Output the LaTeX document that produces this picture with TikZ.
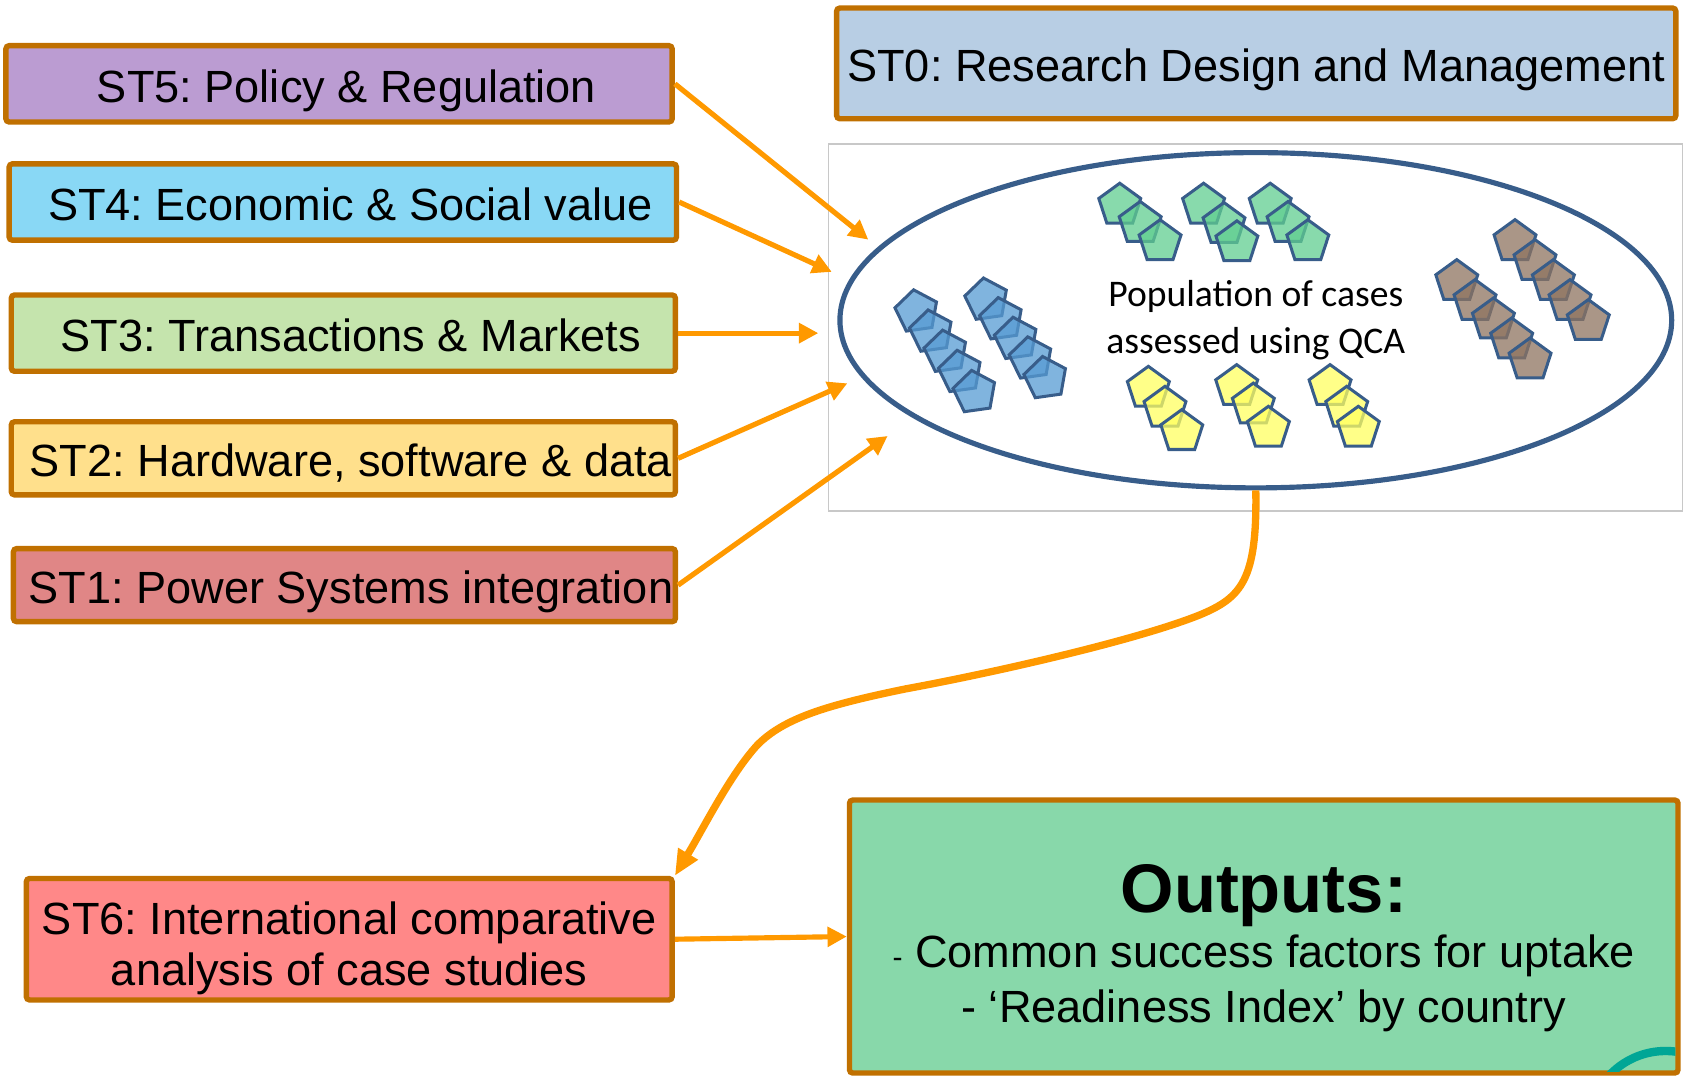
\documentclass[tikz,border=0pt]{standalone}
\usepackage{fontspec}
\setmainfont{Liberation Sans}
\newfontfamily\popfont{Carlito}
\usetikzlibrary{shapes.geometric,arrows.meta}
\frenchspacing

\tikzset{every picture/.style={line width=0.75pt}}

\begin{document}
\begin{tikzpicture}[x=0.5pt,y=0.5pt,yscale=-1,xscale=1,
  stbox/.style={draw={rgb, 255:red, 192; green, 112; blue, 0 }, line width=2.5pt, rounded corners=1.5pt, inner sep=0pt, align=center, font=\fontsize{21}{23.5}\selectfont},
  oneline/.style={stbox, text height=17pt, text depth=0pt},
  feed/.style={draw={rgb, 255:red, 255; green, 153; blue, 0 }, line width=2.4pt, -{Triangle[length=9pt,width=9pt]}},
  curvy/.style={draw={rgb, 255:red, 255; green, 153; blue, 0 }, line width=3.4pt, -{Triangle[length=12pt,width=10pt]}},
  pent/.style={regular polygon, regular polygon sides=5, minimum size=20.5pt, inner sep=0pt, draw={rgb, 255:red, 56; green, 93; blue, 138 }, line width=1.4pt, fill opacity=0.75},
  bluepent/.style={pent, rotate=8, fill={rgb, 255:red, 86; green, 155; blue, 211 }},
  greenpent/.style={pent, fill={rgb, 255:red, 96; green, 206; blue, 144 }},
  yellowpent/.style={pent, fill={rgb, 255:red, 255; green, 255; blue, 96 }},
  brownpent/.style={pent, fill={rgb, 255:red, 142; green, 115; blue, 95 }},
]
\useasboundingbox (0,0) rectangle (1568,1006);

%Shape: Rectangle (picture frame)
\draw [color={rgb, 255:red, 200; green, 200; blue, 200 }, line width=0.5pt] (771,134) rectangle (1566,475.5) ;

%Shape: Ellipse
\draw (1168.6,298) node [ellipse, draw={rgb, 255:red, 56; green, 93; blue, 138 }, line width=2.4pt, minimum width=387pt, minimum height=156pt, inner sep=0pt, align=center, font=\popfont\fontsize{17.5}{21.5}\selectfont] (pop) {Population of cases\\assessed using QCA};

%Shape: Pentagons, blue
\node [bluepent] (b11) at (853,290) {};
\node [bluepent] (b12) at (866.5,308.75) {};
\node [bluepent] (b13) at (880,327.5) {};
\node [bluepent] (b14) at (893.5,346.25) {};
\node [bluepent] (b15) at (907,365) {};
\node [bluepent] (b21) at (918,279) {};
\node [bluepent] (b22) at (931.75,297.25) {};
\node [bluepent] (b23) at (945.5,315.5) {};
\node [bluepent] (b24) at (959.25,333.75) {};
\node [bluepent] (b25) at (973,352) {};
%Shape: Pentagons, green
\node [greenpent] (g11) at (1042,191) {};
\node [greenpent] (g12) at (1061,208) {};
\node [greenpent] (g13) at (1079.5,225) {};
\node [greenpent] (g21) at (1120,191) {};
\node [greenpent] (g22) at (1139,209) {};
\node [greenpent] (g23) at (1151,226) {};
\node [greenpent] (g31) at (1182,191) {};
\node [greenpent] (g32) at (1198.6,208) {};
\node [greenpent] (g33) at (1217,225) {};
%Shape: Pentagons, yellow
\node [yellowpent] (y11) at (1068.6,361.4) {};
\node [yellowpent] (y12) at (1084.1,380) {};
\node [yellowpent] (y13) at (1099.7,401.7) {};
\node [yellowpent] (y21) at (1150.8,359.8) {};
\node [yellowpent] (y22) at (1166.3,377) {};
\node [yellowpent] (y23) at (1180.3,398.6) {};
\node [yellowpent] (y31) at (1237.7,359.8) {};
\node [yellowpent] (y32) at (1253.2,380) {};
\node [yellowpent] (y33) at (1264,398.6) {};
%Shape: Pentagons, brown
\node [brownpent] (r11) at (1409.8,224.9) {};
\node [brownpent] (r12) at (1428.4,243.5) {};
\node [brownpent] (r13) at (1445.5,262.1) {};
\node [brownpent] (r14) at (1461,280.7) {};
\node [brownpent] (r15) at (1478,299.3) {};
\node [brownpent] (r21) at (1355.6,262.1) {};
\node [brownpent] (r22) at (1372.6,280.7) {};
\node [brownpent] (r23) at (1389.7,297.8) {};
\node [brownpent] (r24) at (1406.7,316.4) {};
\node [brownpent] (r25) at (1423.8,335) {};

% Text Node
\draw (1169,59) node [oneline, fill={rgb, 255:red, 184; green, 206; blue, 228 }, minimum width=390.5pt, minimum height=51.5pt] (st0) {ST0: Research Design and Management};
% Text Node
\draw (315.5,78) node [oneline, fill={rgb, 255:red, 187; green, 156; blue, 210 }, minimum width=310pt, minimum height=35.5pt] (st5) {\hspace{7pt}ST5: Policy \& Regulation};
% Text Node
\draw (319,188) node [oneline, fill={rgb, 255:red, 137; green, 216; blue, 245 }, minimum width=310.5pt, minimum height=35.5pt] (st4) {\hspace{7pt}ST4: Economic \& Social value};
% Text Node
\draw (319.5,310) node [oneline, fill={rgb, 255:red, 197; green, 228; blue, 173 }, minimum width=309pt, minimum height=35.5pt] (st3) {\hspace{7pt}ST3: Transactions \& Markets};
% Text Node
\draw (319.5,426.5) node [oneline, fill={rgb, 255:red, 255; green, 224; blue, 140 }, minimum width=309pt, minimum height=34pt] (st2) {\hspace{7pt}ST2: Hardware, software \& data};
% Text Node
\draw (320.5,544.5) node [oneline, fill={rgb, 255:red, 224; green, 134; blue, 134 }, minimum width=308pt, minimum height=34pt] (st1) {\hspace{6pt}ST1: Power Systems integration};
% Text Node
\draw (325,874) node [stbox, fill={rgb, 255:red, 255; green, 136; blue, 136 }, minimum width=300.5pt, minimum height=56.5pt] (st6) {\rule{0pt}{23.5pt}ST6: International comparative\\analysis of case studies};
% Text Node
\draw (1176,871.5) node [stbox, fill={rgb, 255:red, 136; green, 216; blue, 170 }, minimum width=385.5pt, minimum height=127pt, font=\fontsize{21}{25.5}\selectfont] (out) {\rule{0pt}{33pt}{\bfseries\fontsize{32}{38}\selectfont Outputs:}\\{\fontsize{14}{16}\selectfont -} Common success factors for uptake\\- ‘Readiness Index’ by country};

%Shape: Arc (corner)
\begin{scope}
\clip (1480,950) rectangle (1559,997);
\draw [color={rgb, 255:red, 0; green, 166; blue, 150 }, line width=3.9pt] (1550,1050) circle [radius=36pt];
\end{scope}

%Straight Lines
\coordinate (t5) at (808,223);
\coordinate (t4) at (774,253);
\coordinate (t3) at (761.5,310);
\coordinate (t2) at (788.5,356.7);
\coordinate (t1) at (826,405.7);
\draw [feed] (st5.east) -- (t5);
\draw [feed] (st4.east) -- (t4);
\draw [feed] (st3.east) -- (t3);
\draw [feed] (st2.east) -- (t2);
\draw [feed] (st1.east) -- (t1);
\draw [feed] (st6.east) -- (out.west);

%Curve Lines
\draw [curvy] (pop.south) .. controls (1170,540) and (1155,556) .. (1117,572) .. controls (1060,595) and (930,625) .. (843,641) .. controls (770,656) and (730,668) .. (705,693) .. controls (680,720) and (655,770) .. (st6.north east);

\end{tikzpicture}
\end{document}
